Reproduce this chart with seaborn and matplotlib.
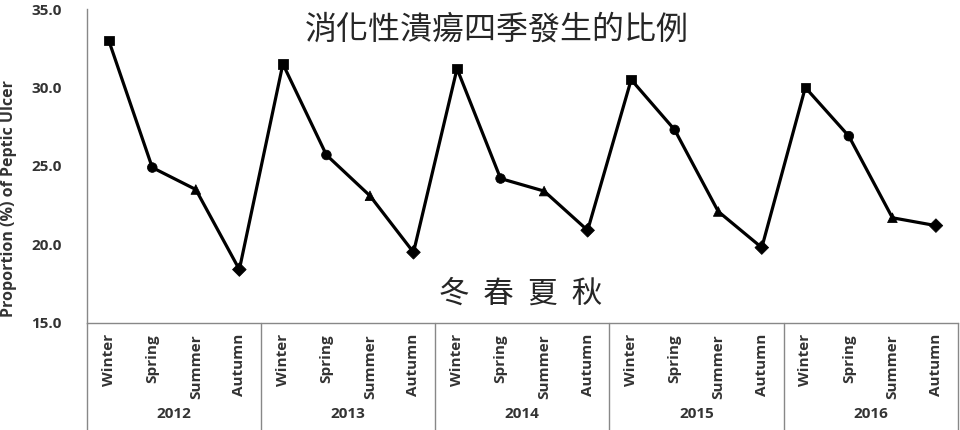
import numpy as np
import matplotlib.pyplot as plt
import seaborn as sns
import pandas as pd
from matplotlib.transforms import blended_transform_factory

# Values
years = ["2012", "2013", "2014", "2015", "2016"]
seasons = ["Winter", "Spring", "Summer", "Autumn"]
values_2012 = [33.0, 24.9, 23.5, 18.4]
values_2013 = [31.5, 25.7, 23.1, 19.5]
values_2014 = [31.2, 24.2, 23.4, 20.9]
values_2015 = [30.5, 27.3, 22.1, 19.8]
values_2016 = [30.0, 26.9, 21.7, 21.2]
y_ticks = [15.0, 20.0, 25.0, 30.0, 35.0]

all_values = [values_2012, values_2013, values_2014, values_2015, values_2016]

rows = []
for yi, (year, vals) in enumerate(zip(years, all_values)):
    for si, (season, v) in enumerate(zip(seasons, vals)):
        rows.append({"pos": yi * 4 + si, "Year": year, "Season": season, "Proportion": v})
df = pd.DataFrame(rows)

sns.set_style("white")
plt.rcParams['font.family'] = ['Open Sans', 'DejaVu Sans']

fig = plt.figure(figsize=(9.6, 4.3), dpi=100)
ax = fig.add_axes([0.0906, 0.249, 0.907, 0.73])

sns.lineplot(data=df, x="pos", y="Proportion", color="black", linewidth=2.3, ax=ax)
sns.scatterplot(data=df, x="pos", y="Proportion", style="Season",
                markers={"Winter": "s", "Spring": "o", "Summer": "^", "Autumn": "D"},
                s=48, color="black", edgecolor="black", legend=False, ax=ax, zorder=3)

ax.set_xlim(-0.5, len(df) - 0.5)
ax.set_ylim(15, 35)
ax.set_yticks(y_ticks)
ax.set_yticklabels([f"{t:.1f}" for t in y_ticks], fontweight="bold", fontsize=11, color="#333333")
ax.tick_params(axis="y", length=0, pad=18)
ax.set_xticks([])
ax.set_xlabel("")
ax.set_ylabel("Proportion (%) of Peptic Ulcer", fontweight="bold", fontsize=11.5, color="#333333")
ax.yaxis.set_label_coords(-0.08, 0.395)

for side in ["top", "right"]:
    ax.spines[side].set_visible(False)
ax.spines["left"].set_color("#888888")
ax.spines["bottom"].set_color("#888888")
ax.spines["left"].set_linewidth(1)
ax.spines["bottom"].set_linewidth(1)

# multi-level category axis
trans = blended_transform_factory(ax.transData, ax.transAxes)
for b in range(len(years) + 1):
    xb = b * 4 - 0.5
    ax.plot([xb, xb], [0, -0.34], transform=trans, color="#888888", lw=1, clip_on=False)
for _, r in df.iterrows():
    ax.text(r["pos"], -0.035, r["Season"], transform=trans, rotation=90, ha="center", va="top",
            fontsize=11, fontweight="bold", color="#333333")
for yi, year in enumerate(years):
    ax.text(yi * 4 + 1.5, -0.29, year, transform=trans, ha="center", va="center",
            fontsize=11, fontweight="bold", color="#333333")

cjk = ['Noto Sans CJK TC', 'DejaVu Sans']
fig.text(0.518, 0.93, "消化性潰瘍四季發生的比例", family=cjk, fontsize=23, ha="center", va="center")
fig.text(0.542, 0.315, "冬  春  夏  秋", family=cjk, fontsize=22, ha="center", va="center")

plt.savefig("out.png", dpi=100)
